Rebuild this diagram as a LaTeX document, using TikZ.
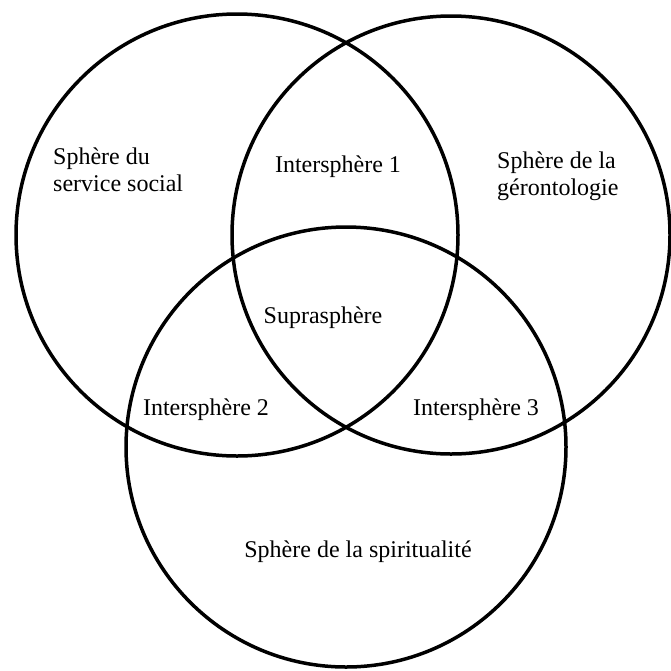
\documentclass[tikz,border=0pt]{standalone}
\usepackage{fontspec}
\setmainfont{Liberation Serif}
\begin{document}
\begin{tikzpicture}[x=1pt,y=-1pt,
  ring/.style={draw=black,line width=3.5pt},
  lbl/.style={font=\fontsize{24}{27}\selectfont,inner sep=0pt,text=black},
  lblL/.style={lbl,align=left,anchor=west}]
\useasboundingbox (0,0) rectangle (671,670);
\draw[ring] (237,235) circle[radius=221] node (c1) {};
\draw[ring] (451,235) circle[radius=219] node (c2) {};
\draw[ring] (346,447) circle[radius=220] node (c3) {};
\node[lblL] (t1) at (53,170) {Sphère du\\service social};
\node[lblL] (t2) at (497,176) {Sphère de la\\gérontologie};
\node[lbl] (t3) at (338,167) {Intersphère 1};
\node[lbl] (t4) at (323,318) {Suprasphère};
\node[lbl] (t5) at (206,410) {Intersphère 2};
\node[lbl] (t6) at (476,410) {Intersphère 3};
\node[lbl] (t7) at (358,552) {Sphère de la spiritualité};
\end{tikzpicture}
\end{document}
